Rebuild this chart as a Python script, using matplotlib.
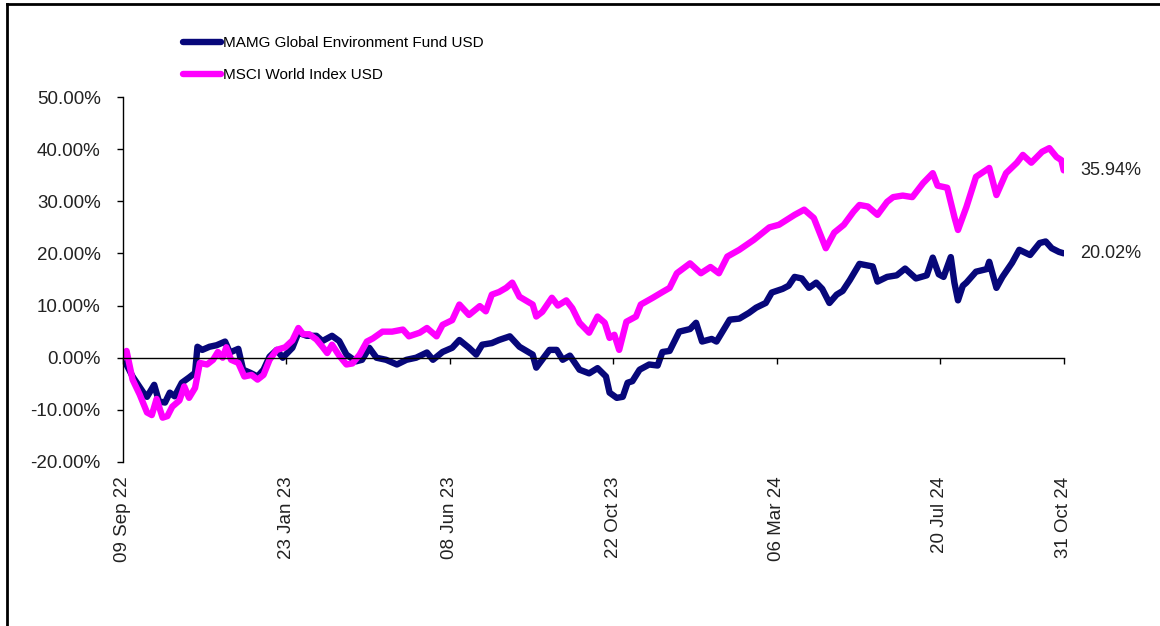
import matplotlib
matplotlib.use('Agg')
import matplotlib.pyplot as plt
import matplotlib.lines as mlines
import matplotlib.ticker as mticker
import pandas as pd

plt.rcParams['font.family'] = ['Liberation Sans', 'DejaVu Sans']

# cumulative performance, %
fund_dates = [
    '2022-09-09', '2022-09-17', '2022-09-26', '2022-09-29', '2022-10-05', '2022-10-09',
    '2022-10-14', '2022-10-18', '2022-10-22', '2022-10-28', '2022-11-03', '2022-11-08',
    '2022-11-10', '2022-11-14', '2022-11-20', '2022-11-26', '2022-12-03', '2022-12-07',
    '2022-12-14', '2022-12-18', '2022-12-24', '2022-12-30', '2023-01-04', '2023-01-09',
    '2023-01-15', '2023-01-20', '2023-01-28', '2023-02-02', '2023-02-09', '2023-02-17',
    '2023-02-22', '2023-03-02', '2023-03-08', '2023-03-14', '2023-03-22', '2023-03-27',
    '2023-04-02', '2023-04-08', '2023-04-16', '2023-04-25', '2023-05-03', '2023-05-11',
    '2023-05-20', '2023-05-25', '2023-06-02', '2023-06-10', '2023-06-16', '2023-06-24',
    '2023-06-30', '2023-07-05', '2023-07-13', '2023-07-19', '2023-07-28', '2023-08-05',
    '2023-08-16', '2023-08-19', '2023-08-30', '2023-09-05', '2023-09-10', '2023-09-16',
    '2023-09-24', '2023-10-02', '2023-10-09', '2023-10-16', '2023-10-19', '2023-10-25',
    '2023-10-30', '2023-11-03', '2023-11-07', '2023-11-13', '2023-11-21', '2023-11-28',
    '2023-12-02', '2023-12-08', '2023-12-16', '2023-12-25', '2023-12-30', '2024-01-04',
    '2024-01-12', '2024-01-16', '2024-01-27', '2024-02-04', '2024-02-12', '2024-02-18',
    '2024-02-26', '2024-03-02', '2024-03-11', '2024-03-16', '2024-03-21', '2024-03-27',
    '2024-04-02', '2024-04-08', '2024-04-13', '2024-04-19', '2024-04-25', '2024-04-30',
    '2024-05-06', '2024-05-14', '2024-05-25', '2024-05-29', '2024-06-06', '2024-06-14',
    '2024-06-21', '2024-06-30', '2024-07-09', '2024-07-14', '2024-07-19', '2024-07-23',
    '2024-07-29', '2024-08-01', '2024-08-04', '2024-08-08', '2024-08-11', '2024-08-19',
    '2024-08-28', '2024-08-30', '2024-09-05', '2024-09-10', '2024-09-18', '2024-09-24',
    '2024-10-03', '2024-10-11', '2024-10-16', '2024-10-21', '2024-10-27', '2024-10-31',
]
fund_values = [
    0.0, -3.6, -6.7, -7.5, -5.2, -8.4,
    -8.6, -6.7, -7.4, -4.8, -3.8, -2.9,
    2.1, 1.5, 2.1, 2.4, 3.1, 1.0,
    1.7, -2.3, -2.9, -3.6, -2.3, 0.2,
    1.5, 0.0, 1.9, 4.8, 4.2, 4.2,
    3.2, 4.2, 3.2, 0.6, -0.7, -0.4,
    1.9, 0.0, -0.4, -1.3, -0.4, 0.0,
    1.0, -0.4, 1.1, 1.9, 3.4, 1.9,
    0.6, 2.5, 2.8, 3.4, 4.1, 2.1,
    0.6, -1.9, 1.5, 1.5, -0.4, 0.4,
    -2.3, -3.0, -2.0, -3.6, -6.7, -7.7,
    -7.5, -4.8, -4.5, -2.3, -1.3, -1.5,
    1.1, 1.3, 5.0, 5.5, 6.7, 3.1,
    3.6, 3.1, 7.3, 7.5, 8.6, 9.6,
    10.5, 12.5, 13.2, 13.8, 15.5, 15.2,
    13.4, 14.4, 13.2, 10.5, 12.1, 12.8,
    14.9, 18.0, 17.5, 14.6, 15.5, 15.8,
    17.1, 15.2, 15.8, 19.2, 16.0, 15.5,
    19.3, 14.4, 11.0, 13.8, 14.4, 16.5,
    17.0, 18.4, 13.4, 15.5, 18.2, 20.7,
    19.7, 22.0, 22.3, 21.0, 20.3, 20.02,
]

index_dates = [
    '2022-09-09', '2022-09-12', '2022-09-17', '2022-09-23', '2022-09-29', '2022-10-03',
    '2022-10-07', '2022-10-12', '2022-10-16', '2022-10-20', '2022-10-26', '2022-10-30',
    '2022-11-03', '2022-11-08', '2022-11-12', '2022-11-18', '2022-11-23', '2022-11-27',
    '2022-12-01', '2022-12-04', '2022-12-08', '2022-12-14', '2022-12-19', '2022-12-25',
    '2022-12-30', '2023-01-04', '2023-01-09', '2023-01-15', '2023-01-22', '2023-01-28',
    '2023-02-02', '2023-02-06', '2023-02-11', '2023-02-17', '2023-02-22', '2023-02-26',
    '2023-03-02', '2023-03-08', '2023-03-14', '2023-03-19', '2023-03-25', '2023-03-31',
    '2023-04-05', '2023-04-13', '2023-04-21', '2023-04-30', '2023-05-05', '2023-05-14',
    '2023-05-20', '2023-05-28', '2023-06-02', '2023-06-10', '2023-06-16', '2023-06-24',
    '2023-07-03', '2023-07-08', '2023-07-13', '2023-07-19', '2023-07-25', '2023-07-30',
    '2023-08-05', '2023-08-16', '2023-08-19', '2023-08-24', '2023-09-01', '2023-09-06',
    '2023-09-13', '2023-09-18', '2023-09-24', '2023-10-02', '2023-10-09', '2023-10-15',
    '2023-10-19', '2023-10-23', '2023-10-27', '2023-11-02', '2023-11-10', '2023-11-14',
    '2023-11-24', '2023-12-02', '2023-12-08', '2023-12-14', '2023-12-25', '2024-01-03',
    '2024-01-11', '2024-01-18', '2024-01-25', '2024-02-04', '2024-02-16', '2024-02-29',
    '2024-03-08', '2024-03-21', '2024-03-29', '2024-04-06', '2024-04-16', '2024-04-23',
    '2024-05-01', '2024-05-09', '2024-05-14', '2024-05-21', '2024-05-29', '2024-06-06',
    '2024-06-11', '2024-06-19', '2024-06-27', '2024-07-06', '2024-07-14', '2024-07-18',
    '2024-07-26', '2024-08-01', '2024-08-04', '2024-08-11', '2024-08-19', '2024-08-30',
    '2024-09-05', '2024-09-13', '2024-09-22', '2024-09-27', '2024-10-04', '2024-10-13',
    '2024-10-19', '2024-10-25', '2024-10-29', '2024-10-31',
]
index_values = [
    0.0, 1.3, -4.2, -7.1, -10.5, -11.0,
    -7.9, -11.5, -11.2, -9.4, -8.2, -5.5,
    -7.7, -5.8, -1.0, -1.3, -0.4, 1.1,
    0.0, 2.0, -0.4, -1.0, -3.6, -3.3,
    -4.2, -3.3, -0.4, 1.5, 2.0, 3.3,
    5.7, 4.5, 4.5, 3.5, 2.1, 0.9,
    2.5, 0.4, -1.3, -1.1, 0.6, 3.1,
    3.7, 5.0, 5.0, 5.4, 4.1, 4.8,
    5.7, 4.1, 6.3, 7.2, 10.2, 8.2,
    9.9, 8.9, 12.1, 12.6, 13.4, 14.4,
    11.7, 10.2, 7.9, 8.8, 11.5, 10.0,
    11.0, 9.5, 6.7, 4.8, 7.9, 6.7,
    3.8, 4.4, 1.5, 6.9, 7.9, 10.2,
    11.5, 12.6, 13.4, 16.2, 18.1, 16.2,
    17.4, 16.2, 19.4, 20.7, 22.6, 25.0,
    25.5, 27.4, 28.4, 26.8, 21.0, 24.0,
    25.5, 28.0, 29.3, 29.0, 27.4, 29.9,
    30.8, 31.1, 30.8, 33.5, 35.4, 33.0,
    32.6, 27.0, 24.5, 28.9, 34.7, 36.4,
    31.2, 35.4, 37.4, 38.9, 37.4, 39.5,
    40.2, 38.5, 37.9, 35.94,
]

fund_name = 'MAMG Global Environment Fund USD'
index_name = 'MSCI World Index USD'
tick_dates = ['2022-09-09', '2023-01-23', '2023-06-08', '2023-10-22',
              '2024-03-06', '2024-07-20', '2024-10-31']
tick_labels = ['09 Sep 22', '23 Jan 23', '08 Jun 23', '22 Oct 23',
               '06 Mar 24', '20 Jul 24', '31 Oct 24']

navy = '#07077a'
magenta = '#ff00ff'

fig = plt.figure(figsize=(11.6, 6.26), dpi=100)
ax = fig.add_axes([0.106, 0.262, 0.811, 0.583])

fd = pd.to_datetime(fund_dates)
idx = pd.to_datetime(index_dates)
l1, = ax.plot(fd, fund_values, color=navy, lw=4.6, solid_joinstyle='round', solid_capstyle='round')
l2, = ax.plot(idx, index_values, color=magenta, lw=4.6, solid_joinstyle='round', solid_capstyle='round')

ax.set_xlim(pd.Timestamp(tick_dates[0]), pd.Timestamp(tick_dates[-1]))
ax.set_ylim(-20, 50)

# y axis
ax.set_yticks(range(-20, 51, 10))
ax.yaxis.set_major_formatter(mticker.FuncFormatter(lambda v, p: '%.2f%%' % v))
ax.tick_params(axis='y', direction='out', length=4, width=1, pad=12,
               labelsize=13.5, labelcolor='#222222')

# x axis sits on the zero line, labels at the bottom
ax.spines['bottom'].set_position(('data', 0))
ax.spines['top'].set_visible(False)
ax.spines['right'].set_visible(False)
ax.spines['left'].set_linewidth(1)
ax.spines['bottom'].set_linewidth(1)
ax.set_xticks(pd.to_datetime(tick_dates))
ax.tick_params(axis='x', direction='out', length=4, width=1, labelbottom=False)
for d, lab in zip(tick_dates, tick_labels):
    ax.text(pd.Timestamp(d), -0.04, lab, transform=ax.get_xaxis_transform(),
            rotation=90, ha='center', va='top', fontsize=13.5, color='#222222')

# end values
for d, v, in [(fd[-1], fund_values[-1]), (idx[-1], index_values[-1])]:
    ax.annotate('%.2f%%' % v, (d, v), xytext=(12, 0), textcoords='offset points',
                ha='left', va='center', fontsize=13, color='#222222',
                annotation_clip=False)

fig.legend([l1, l2], [fund_name, index_name], loc='upper left',
           bbox_to_anchor=(183 / 1160, 1 - 36 / 626), frameon=False,
           fontsize=11, handlelength=2.5, handletextpad=0.1, labelspacing=1.2,
           borderpad=0, borderaxespad=0)

# outer frame (top and left edges)
fig.add_artist(mlines.Line2D([7 / 1160, 1], [1 - 4 / 626, 1 - 4 / 626],
                             transform=fig.transFigure, color='black', lw=2))
fig.add_artist(mlines.Line2D([7 / 1160, 7 / 1160], [0, 1 - 4 / 626],
                             transform=fig.transFigure, color='black', lw=2))

fig.savefig('out.png', dpi=100)
